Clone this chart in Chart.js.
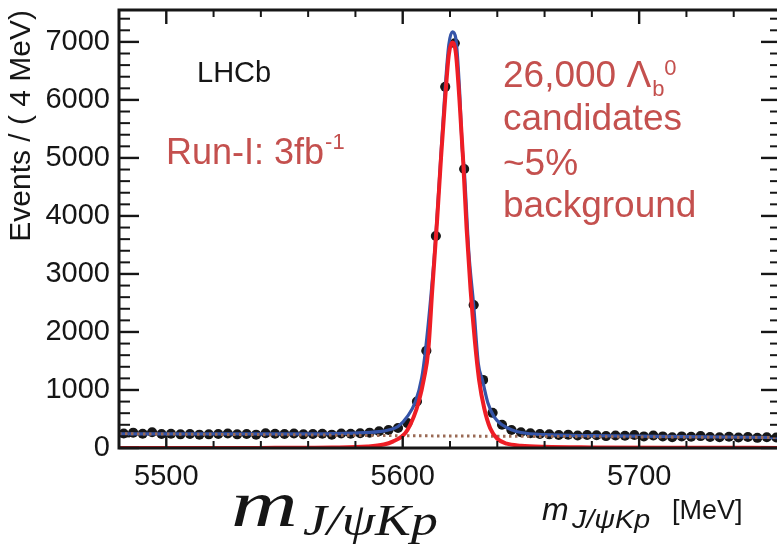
<!DOCTYPE html>
<html><head><meta charset="utf-8">
<script src="https://cdn.jsdelivr.net/npm/chart.js@4/dist/chart.umd.min.js"></script>
<style>html,body{margin:0;padding:0;overflow:hidden;background:#fff;width:777px;height:550px}canvas{display:block}</style>
</head><body>
<canvas id="c" width="790" height="550" style="width:790px;height:550px"></canvas>
<script>
// ---- data ----
const binCenters = [5482,5486,5490,5494,5498,5502,5506,5510,5514,5518,5522,5526,5530,5534,5538,5542,5546,5550,5554,5558,5562,5566,5570,5574,5578,5582,5586,5590,5594,5598,5602,5606,5610,5614,5618,5622,5626,5630,5634,5638,5642,5646,5650,5654,5658,5662,5666,5670,5674,5678,5682,5686,5690,5694,5698,5702,5706,5710,5714,5718,5722,5726,5730,5734,5738,5742,5746,5750,5754,5758];
const eventCounts = [250,265,245,270,240,245,235,240,230,235,240,250,235,240,230,255,245,240,250,235,240,245,230,250,245,255,265,290,310,345,429,800,1675,3654,6225,6978,4808,2466,1174,606,400,311,270,255,240,235,225,230,215,225,220,205,215,210,225,200,215,200,185,200,195,205,190,185,195,180,190,175,185,180];
const binHalfWidth = 2;

const totalFitX = [5480,5520,5560,5580,5590,5594,5598,5602,5605.4,5608,5609.6,5612,5614,5616.3,5618,5619.5,5621,5622.5,5624,5625.2,5626,5628,5630,5632,5633.7,5636,5638.6,5642,5646.3,5650,5660,5680,5720,5760];
const totalFitY = [245,243,245,258,282,311,370,545,800,1200,1675,2650,3654,5147,6225,6950,7172,7050,6200,5147,4808,3350,2466,1450,1174,780,541,400,311,268,230,212,195,180];

const signalFitX = [5480,5540,5570,5585,5592,5596,5600,5602,5604.7,5606.8,5609,5610.8,5612.5,5614.5,5616.2,5618,5619.5,5621,5622.5,5624,5625.5,5627,5628.7,5630.5,5632.3,5634.5,5637,5640,5644,5650,5660,5680,5720,5760];
const signalFitY = [0,2,8,25,60,115,210,311,541,800,1200,1675,2729,3900,5000,6050,6780,6990,6800,6000,5000,3800,2729,1850,1174,680,340,160,75,40,20,10,4,2];

const bkgFitX = [5480,5560,5600,5640,5700,5760];
const bkgFitY = [245,225,212,203,190,180];

const xTickValues = [5500,5600,5700];
const yTickValues = [0,1000,2000,3000,4000,5000,6000,7000];
const yAxisTitle = 'Events / ( 4 MeV)';

const toXY = (xs, ys) => xs.map((x, i) => ({x: x, y: ys[i]}));

const INK = '#161616';
const RED_TXT = '#c4504e';
const SANS = '"Liberation Sans", Arial, sans-serif';
const SERIF = '"Liberation Serif", "DejaVu Serif", serif';

const errorBarPlugin = {
  id: 'errbars',
  beforeDatasetsDraw(chart) {
    const ctx = chart.ctx, xs = chart.scales.x, ys = chart.scales.y;
    ctx.save();
    ctx.strokeStyle = INK; ctx.lineWidth = 2.6;
    binCenters.forEach((c, i) => {
      const py = ys.getPixelForValue(eventCounts[i]);
      ctx.beginPath();
      ctx.moveTo(xs.getPixelForValue(c - binHalfWidth), py);
      ctx.lineTo(xs.getPixelForValue(c + binHalfWidth), py);
      ctx.stroke();
    });
    ctx.restore();
  }
};

const framePlugin = {
  id: 'frame',
  afterDraw(chart) {
    const ctx = chart.ctx, xs = chart.scales.x, ys = chart.scales.y;
    const {left, right, top, bottom} = chart.chartArea;
    ctx.save();
    ctx.strokeStyle = INK;
    ctx.lineCap = 'butt';
    const seg = (x1, y1, x2, y2) => { ctx.beginPath(); ctx.moveTo(x1, y1); ctx.lineTo(x2, y2); ctx.stroke(); };
    // y ticks
    ctx.lineWidth = 2.4;
    yTickValues.forEach(v => { const p = ys.getPixelForValue(v); seg(left, p, left + 20, p); seg(right, p, right - 20, p); });
    ctx.lineWidth = 2;
    for (let v = 200; v < ys.max; v += 200) {
      if (v % 1000 === 0) continue;
      const p = ys.getPixelForValue(v); seg(left, p, left + 11, p); seg(right, p, right - 11, p);
    }
    // x ticks
    ctx.lineWidth = 2.4;
    xTickValues.forEach(v => { const p = xs.getPixelForValue(v); seg(p, bottom, p, bottom - 12); seg(p, top, p, top + 14); });
    ctx.lineWidth = 2;
    for (let v = 5500; v < xs.max; v += 20) {
      if (v % 100 === 0) continue;
      const p = xs.getPixelForValue(v); seg(p, bottom, p, bottom - 7); seg(p, top, p, top + 7);
    }
    // frame
    ctx.lineWidth = 3;
    ctx.strokeRect(left, top, right - left, bottom - top);

    // y axis title (rotated, aligned to the top of the axis)
    ctx.save();
    ctx.fillStyle = INK;
    ctx.translate(22, top);
    ctx.rotate(-Math.PI / 2);
    ctx.textAlign = 'right';
    ctx.textBaseline = 'middle';
    ctx.font = '30px ' + SANS;
    ctx.fillText(yAxisTitle, 0, 0);
    ctx.restore();

    // annotations
    ctx.textBaseline = 'alphabetic';
    ctx.fillStyle = INK;
    ctx.font = '29px ' + SANS;
    ctx.fillText('LHCb', 197, 82);

    ctx.fillStyle = RED_TXT;
    ctx.font = '36px ' + SANS;
    ctx.fillText('Run-I: 3fb', 166, 164);
    let w = ctx.measureText('Run-I: 3fb').width;
    ctx.font = '22px ' + SANS;
    ctx.fillText('-1', 166 + w + 1, 149);

    ctx.font = '37px ' + SANS;
    ctx.fillText('26,000 \u039B', 503, 87);
    w = ctx.measureText('26,000 \u039B').width;
    ctx.font = '22px ' + SANS;
    ctx.fillText('b', 503 + w + 1, 96);
    ctx.fillText('0', 503 + w + 13, 75);
    ctx.font = '37px ' + SANS;
    ctx.fillText('candidates', 503, 130);
    ctx.fillText('~5%', 503, 175);
    ctx.fillText('background', 503, 217);

    // x axis titles
    ctx.fillStyle = INK;
    ctx.save();
    ctx.translate(231, 526);
    ctx.scale(1.4, 1);
    ctx.font = 'italic 66px ' + SERIF;
    ctx.fillText('m', 0, 0);
    ctx.restore();
    ctx.save();
    ctx.translate(303, 535);
    ctx.scale(1.22, 1);
    ctx.font = 'italic 44px ' + SERIF;
    ctx.fillText('J/\u03C8Kp', 0, 0);
    ctx.restore();

    ctx.font = 'italic 32px ' + SANS;
    ctx.fillText('m', 542, 520);
    ctx.save();
    ctx.translate(572, 528);
    ctx.scale(1.1, 1);
    ctx.font = 'italic 26px ' + SANS;
    ctx.fillText('J/\u03C8Kp', 0, 0);
    ctx.restore();
    ctx.font = '27px ' + SANS;
    ctx.fillText('[MeV]', 672, 519);
    ctx.restore();
  }
};

new Chart(document.getElementById('c'), {
  type: 'scatter',
  data: {
    datasets: [
      { label: 'Signal', data: toXY(signalFitX, signalFitY), showLine: true, borderColor: '#ee1d25', borderWidth: 4, pointRadius: 0, cubicInterpolationMode: 'monotone', order: 0 },
      { label: 'Background', data: toXY(bkgFitX, bkgFitY), showLine: true, borderColor: '#9a6a55', borderWidth: 3, borderDash: [2.5, 3.5], pointRadius: 0, cubicInterpolationMode: 'monotone', order: 1 },
      { label: 'Total fit', data: toXY(totalFitX, totalFitY), showLine: true, borderColor: '#3554a8', borderWidth: 3.2, pointRadius: 0, cubicInterpolationMode: 'monotone', order: 2 },
      { label: 'Data', data: toXY(binCenters, eventCounts), showLine: false, backgroundColor: INK, borderWidth: 0, pointRadius: 5, order: 3 }
    ]
  },
  options: {
    responsive: false, animation: false, devicePixelRatio: 1,
    layout: { autoPadding: false, padding: { top: 10, right: 9, left: 0, bottom: 0 } },
    plugins: { legend: { display: false }, tooltip: { enabled: false } },
    scales: {
      x: {
        type: 'linear', min: 5480, max: 5760,
        grid: { display: false, drawTicks: false }, border: { display: false },
        afterBuildTicks: s => { s.ticks = xTickValues.map(v => ({ value: v })); },
        afterFit: s => { s.height = 102; s.paddingLeft = 0; s.paddingRight = 0; s.paddingTop = 0; s.paddingBottom = 0; },
        ticks: { font: { family: SANS, size: 29 }, color: INK, padding: 12, maxRotation: 0, autoSkip: false, callback: v => String(v) }
      },
      y: {
        type: 'linear', min: 0, max: 7550,
        grid: { display: false, drawTicks: false }, border: { display: false },
        afterBuildTicks: s => { s.ticks = yTickValues.map(v => ({ value: v })); },
        afterFit: s => { s.width = 119; s.paddingLeft = 0; s.paddingRight = 0; s.paddingTop = 0; s.paddingBottom = 0; },
        ticks: { font: { family: SANS, size: 29 }, color: INK, padding: 9, callback: v => String(v) },
        title: { display: false, text: yAxisTitle }
      }
    }
  },
  plugins: [errorBarPlugin, framePlugin]
});
</script>
</body></html>
